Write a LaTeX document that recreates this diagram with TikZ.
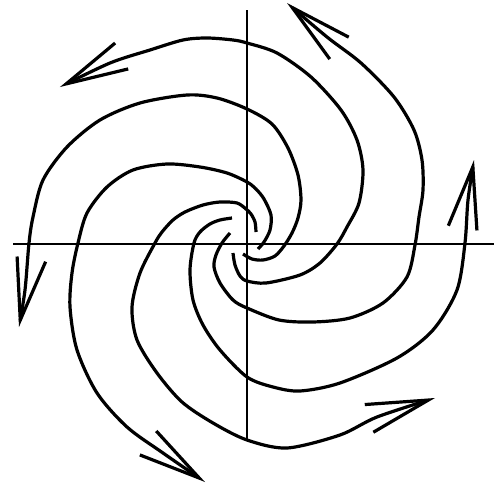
\documentclass[tikz,border=0pt]{standalone}
\usetikzlibrary{arrows.meta}
\begin{document}
\begin{tikzpicture}[x=0.5pt,y=-0.5pt,
  axis/.style={line width=0.9pt},
  orbit/.style={line width=1.6pt, line join=round,
    -{Straight Barb[length=31pt,width=14.5pt,line width=1.6pt]}}]
  \useasboundingbox (0,0) rectangle (494,487);
  % axes
  \draw[axis] (13,244) -- (494,244);
  \draw[axis] (247,10) -- (247,440);
  % trajectories of the spiral source
  \draw[orbit] plot[smooth] coordinates {(243,254) (252,259) (263,260) (275,256) (284,246) (292,233) (298,218) (301,200) (298,175) (288,148) (272,124) (247,109) (217,98) (187,95) (140,103) (100,120) (67,147) (43,180) (33,217) (29,243) (25,290) (19,327)};
  \draw[orbit] plot[smooth] coordinates {(258,249) (264,242) (270,230) (271,215) (264,199) (256,189) (247,182) (227,173) (200,167) (167,164) (133,170) (107,187) (87,213) (78,243) (72,273) (70,307) (77,350) (97,393) (127,427) (163,453) (205,482)};
  \draw[orbit] plot[smooth] coordinates {(256,232) (255,222) (251,214) (246,209) (237,203) (220,202) (203,205) (185,212) (173,220) (162,232) (155,243) (140,273) (132,307) (137,340) (157,373) (182,402) (213,423) (247,440) (287,448) (340,435) (377,417) (435,398)};
  \draw[orbit] plot[smooth] coordinates {(232,218) (220,220) (210,224) (200,232) (194,243) (190,270) (193,300) (203,325) (220,350) (247,377) (273,387) (300,391) (340,383) (397,358) (433,330) (457,290) (465,243) (468,200) (474,160)};
  \draw[orbit] plot[smooth] coordinates {(230,233) (222,243) (216,255) (214,267) (220,283) (233,300) (247,308) (279,320) (313,322) (350,318) (383,303) (407,277) (415,245) (419,217) (423,190) (422,160) (414,130) (394,97) (361,63) (327,37) (287,3)};
  \draw[orbit] plot[smooth] coordinates {(233,253) (235,265) (240,276) (247,281) (266,283) (300,275) (320,263) (337,244) (347,227) (359,203) (363,170) (357,140) (341,110) (311,77) (277,53) (247,43) (233,40) (207,38) (183,40) (150,50) (110,63) (60,87)};
\end{tikzpicture}
\end{document}
